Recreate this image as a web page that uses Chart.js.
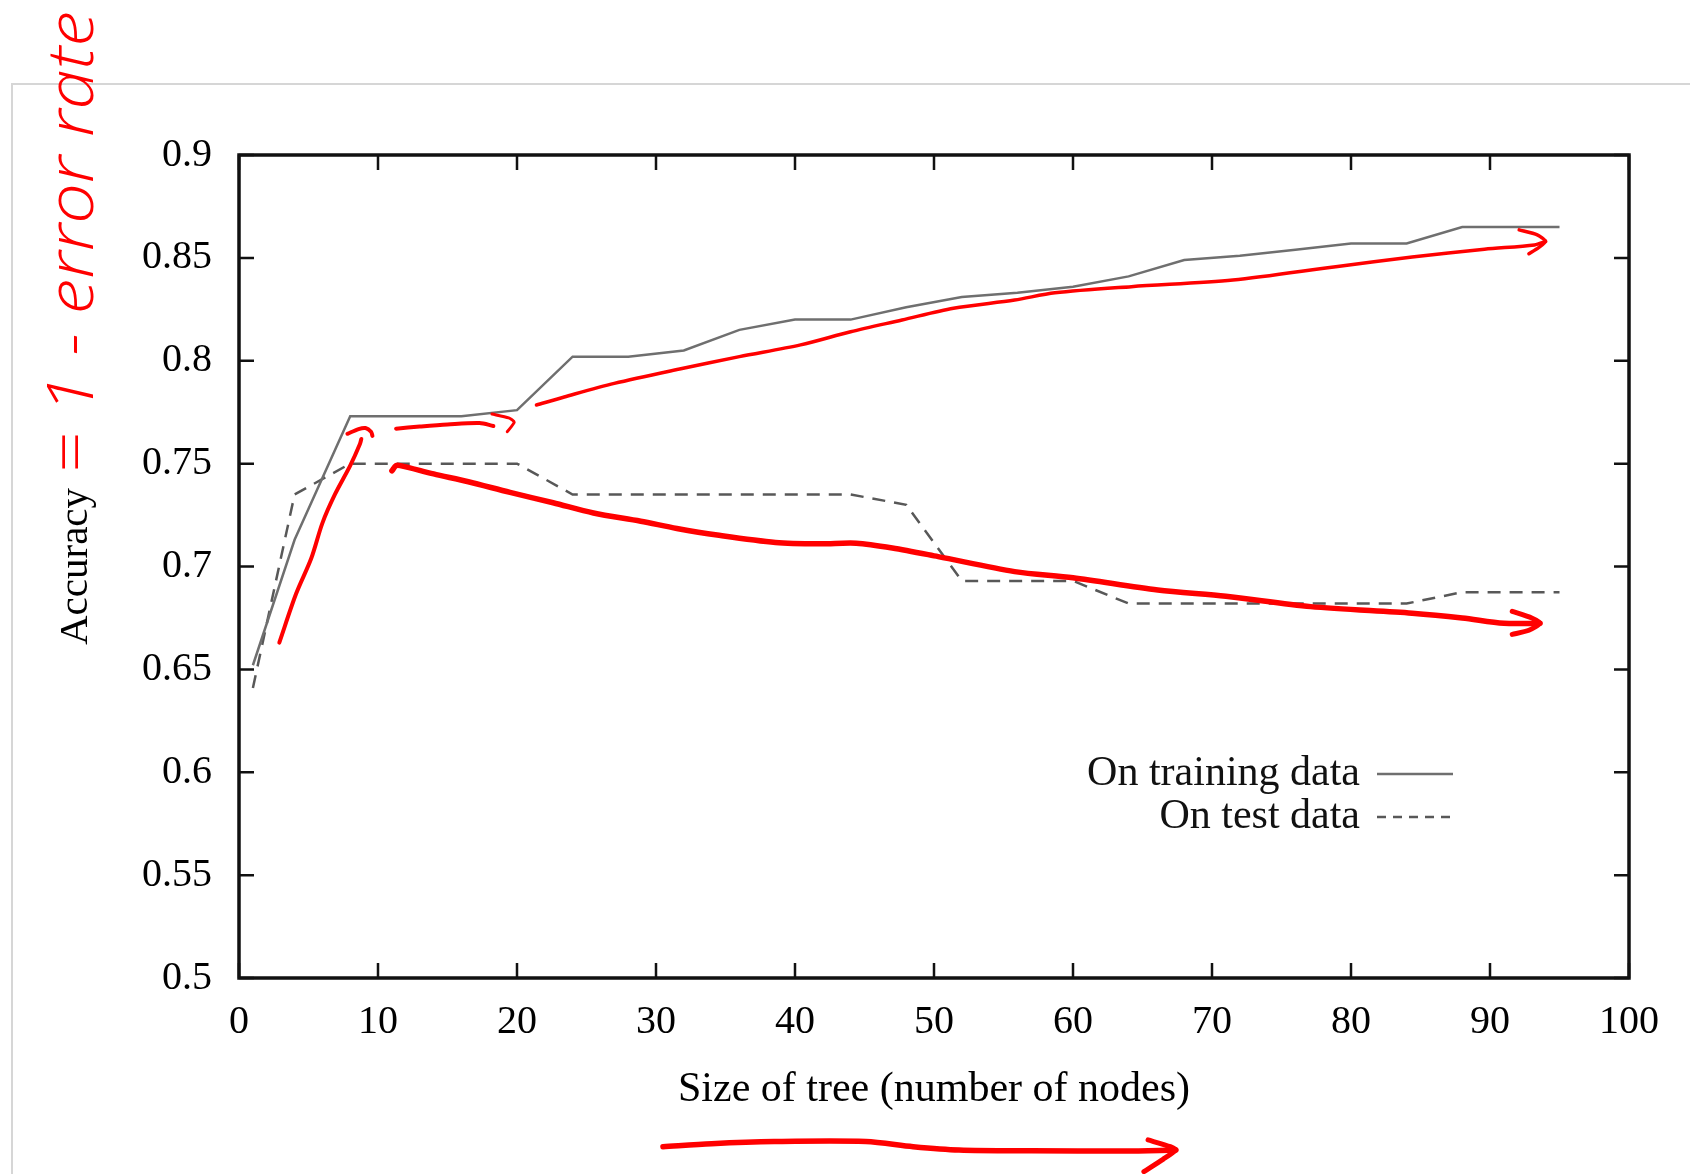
<!DOCTYPE html>
<html lang="en">
<head>
  <meta charset="UTF-8" />
  <title>Accuracy vs tree size</title>
  <script src="https://cdn.jsdelivr.net/npm/chart.js"></script>
  <style>
    body {
      margin: 0;
      padding: 0;
      background-color: #fff;
      overflow: hidden;
    }

    /* light frame of the original screenshot */
    .frame {
      position: absolute;
      left: 11px;
      top: 83px;
      width: 1690px;
      height: 1174px;
      border-left: 2px solid #d6d6d6;
      border-top: 2px solid #d6d6d6;
    }

    canvas {
      position: absolute;
      left: 0;
      top: 0;
    }
  </style>
</head>
<body>

  <div class="frame"></div>
  <canvas id="accChart" width="1690" height="1174"></canvas>

  <script>
    // tree size (number of nodes)
    const sizeX = [1, 4, 8, 12, 16, 20, 24, 28, 32, 36, 40, 44, 48, 52, 56, 60, 64, 68, 72, 76, 80, 84, 88, 92, 95];
    const trainAcc = [0.652, 0.713, 0.773, 0.773, 0.773, 0.776, 0.802, 0.802, 0.805, 0.815, 0.820, 0.820, 0.826, 0.831, 0.833, 0.836, 0.841, 0.849, 0.851, 0.854, 0.857, 0.857, 0.865, 0.865, 0.865];
    const testAcc = [0.641, 0.735, 0.750, 0.750, 0.750, 0.750, 0.735, 0.735, 0.735, 0.735, 0.735, 0.735, 0.730, 0.693, 0.693, 0.693, 0.682, 0.682, 0.682, 0.682, 0.682, 0.682, 0.6875, 0.6875, 0.6875];

    const seriesNames = ['On training data', 'On test data'];
    const xTitle = 'Size of tree (number of nodes)';
    const yTitle = 'Accuracy';
    const noteText = '= 1 - error rate';

    // red pen strokes drawn over the plot, [x, y] in data units
    const penLeft = [[2.9, 0.663], [4.1, 0.6866], [5.2, 0.704], [6.0, 0.7211], [6.9, 0.735], [8.0, 0.749], [8.7, 0.7595], [8.8, 0.762]];
    const penHook = [[7.8, 0.7645], [8.6, 0.7668], [9.1, 0.7673], [9.5, 0.7655], [9.6, 0.7635]];
    const penMid = [[11.3, 0.767], [13.0, 0.768], [15.0, 0.769], [17.3, 0.7697], [18.3, 0.7683]];
    const penMidHead = [[18.2, 0.7741], [19.4, 0.7722], [19.8, 0.7702], [19.3, 0.7655]];
    const penUpper = [[21.4, 0.7785], [23.4, 0.7824], [27.0, 0.789], [31.7, 0.796], [36.0, 0.802], [40.4, 0.8077], [44.0, 0.8141], [47.7, 0.8198], [51.4, 0.8255], [55.8, 0.8295], [58.7, 0.833], [64.2, 0.836], [71.5, 0.8392], [78.9, 0.8457], [84.4, 0.8504], [89.6, 0.8542], [93.2, 0.8563], [94.0, 0.858]];
    const penUpperHead = [[92.1, 0.8636], [93.4, 0.8612], [94.0, 0.858], [93.5, 0.855], [92.8, 0.852]];
    const penLower = [[11.0, 0.7465], [11.3, 0.749], [11.6, 0.749], [14.0, 0.745], [16.5, 0.7412], [19.5, 0.736], [22.6, 0.731], [25.5, 0.726], [28.9, 0.722], [31.5, 0.7185], [34.4, 0.7153], [38.6, 0.7117], [41.8, 0.711], [44.4, 0.7113], [47.0, 0.709], [50.3, 0.7048], [55.8, 0.6975], [60.0, 0.6945], [66.1, 0.6886], [71.0, 0.6855], [77.1, 0.6805], [84.4, 0.6773], [88.0, 0.675], [91.0, 0.6724], [93.6, 0.6724]];
    const penLowerHead = [[91.6, 0.6782], [93.0, 0.675], [93.6, 0.6724], [92.8, 0.669], [91.6, 0.667]];
    const penBottom = [[30.5, 0.418], [34.0, 0.4195], [38.5, 0.4205], [45.1, 0.4205], [48.5, 0.418], [51.8, 0.4164], [57.0, 0.416], [63.7, 0.4159], [67.4, 0.4164]];
    const penBottomHead = [[65.4, 0.4213], [67.0, 0.418], [67.4, 0.4164], [66.5, 0.412], [65.1, 0.4059]];

    const serif = "'Liberation Serif', 'DejaVu Serif', serif";
    const RED = '#ff0000';

    function toPts(pairs) {
      return pairs.map(p => ({ x: p[0], y: p[1] }));
    }

    function pen(pairs, width, tension) {
      return {
        data: toPts(pairs),
        borderColor: RED,
        borderWidth: width,
        pointRadius: 0,
        tension: tension,
        borderCapStyle: 'round',
        borderJoinStyle: 'round',
        clip: false,
        order: 0
      };
    }

    // gnuplot style box, inward ticks on all sides, key and the handwritten note
    const gnuplotBox = {
      id: 'gnuplotBox',
      afterDatasetsDraw(chart) {
        const ctx = chart.ctx;
        const a = chart.chartArea;
        const xs = chart.scales.x;
        const ys = chart.scales.y;
        const tick = 15;
        ctx.save();
        ctx.strokeStyle = '#111';
        ctx.lineWidth = 2.5;
        ctx.beginPath();
        xs.ticks.forEach(t => {
          const px = xs.getPixelForValue(t.value);
          ctx.moveTo(px, a.bottom); ctx.lineTo(px, a.bottom - tick);
          ctx.moveTo(px, a.top); ctx.lineTo(px, a.top + tick);
        });
        ys.ticks.forEach(t => {
          const py = ys.getPixelForValue(t.value);
          ctx.moveTo(a.left, py); ctx.lineTo(a.left + tick, py);
          ctx.moveTo(a.right, py); ctx.lineTo(a.right - tick, py);
        });
        ctx.stroke();
        ctx.lineWidth = 3.5;
        ctx.strokeRect(a.left, a.top, a.right - a.left, a.bottom - a.top);

        // key
        ctx.font = '42px ' + serif;
        ctx.fillStyle = '#111';
        ctx.textAlign = 'right';
        ctx.textBaseline = 'middle';
        const keyRight = 1360;
        const rows = [a.top + 619, a.top + 662];
        seriesNames.forEach((name, i) => {
          ctx.fillText(name, keyRight, rows[i]);
          const ds = chart.data.datasets.find(d => d.label === name);
          ctx.strokeStyle = ds.borderColor;
          ctx.lineWidth = ds.borderWidth;
          ctx.setLineDash(i === 1 ? [9, 7] : []);
          ctx.beginPath();
          ctx.moveTo(keyRight + 17, rows[i]);
          ctx.lineTo(keyRight + 93, rows[i]);
          ctx.stroke();
        });
        ctx.setLineDash([]);

        // handwritten note next to the y title
        ctx.translate(93, 474);
        ctx.rotate(-Math.PI / 2);
        ctx.font = "italic 300 64px 'Open Sans', 'DejaVu Sans', sans-serif";
        const w = ctx.measureText(noteText).width;
        ctx.scale(463 / w, 1);
        ctx.fillStyle = RED;
        ctx.textAlign = 'left';
        ctx.textBaseline = 'alphabetic';
        ctx.fillText(noteText, 0, 0);
        ctx.restore();
      }
    };

    const ctxAcc = document.getElementById('accChart').getContext('2d');
    const accChart = new Chart(ctxAcc, {
      type: 'line',
      data: {
        datasets: [
          pen(penLeft, 4, 0.3),
          pen(penHook, 4, 0.3),
          pen(penMid, 4, 0.3),
          pen(penMidHead, 3, 0.2),
          pen(penUpper, 3.5, 0.3),
          pen(penUpperHead, 3.5, 0.2),
          pen(penLower, 5.5, 0.3),
          pen(penLowerHead, 5, 0.2),
          pen(penBottom, 5.5, 0.3),
          pen(penBottomHead, 5, 0.2),
          {
            label: seriesNames[0],
            data: sizeX.map((x, i) => ({ x: x, y: trainAcc[i] })),
            borderColor: '#6f6f6f',
            borderWidth: 2.5,
            pointRadius: 0,
            tension: 0,
            order: 1
          },
          {
            label: seriesNames[1],
            data: sizeX.map((x, i) => ({ x: x, y: testAcc[i] })),
            borderColor: '#585858',
            borderWidth: 2.5,
            borderDash: [13, 9],
            pointRadius: 0,
            tension: 0,
            order: 1
          }
        ]
      },
      options: {
        responsive: false,
        animation: false,
        devicePixelRatio: 1,
        layout: {
          padding: { left: 0, right: 61, top: 155, bottom: 0 }
        },
        scales: {
          x: {
            type: 'linear',
            min: 0,
            max: 100,
            grid: { display: false, drawTicks: false },
            border: { display: false },
            ticks: {
              stepSize: 10,
              padding: 20,
              color: '#000',
              font: { family: serif, size: 40 }
            },
            title: {
              display: true,
              text: xTitle,
              color: '#000',
              font: { family: serif, size: 42 },
              padding: { top: 0, bottom: 59 }
            },
            afterFit(s) { s.height = 196; }
          },
          y: {
            type: 'linear',
            min: 0.5,
            max: 0.9,
            grid: { display: false, drawTicks: false },
            border: { display: false },
            ticks: {
              stepSize: 0.05,
              padding: 27,
              color: '#000',
              font: { family: serif, size: 40 },
              callback: v => String(Number(v.toFixed(2)))
            },
            title: {
              display: true,
              text: yTitle,
              color: '#000',
              font: { family: serif, size: 41 },
              padding: { top: 52, bottom: 0 }
            },
            afterFit(s) { s.width = 239; }
          }
        },
        plugins: {
          legend: { display: false },
          tooltip: { enabled: false }
        }
      },
      plugins: [gnuplotBox]
    });
  </script>

</body>
</html>
